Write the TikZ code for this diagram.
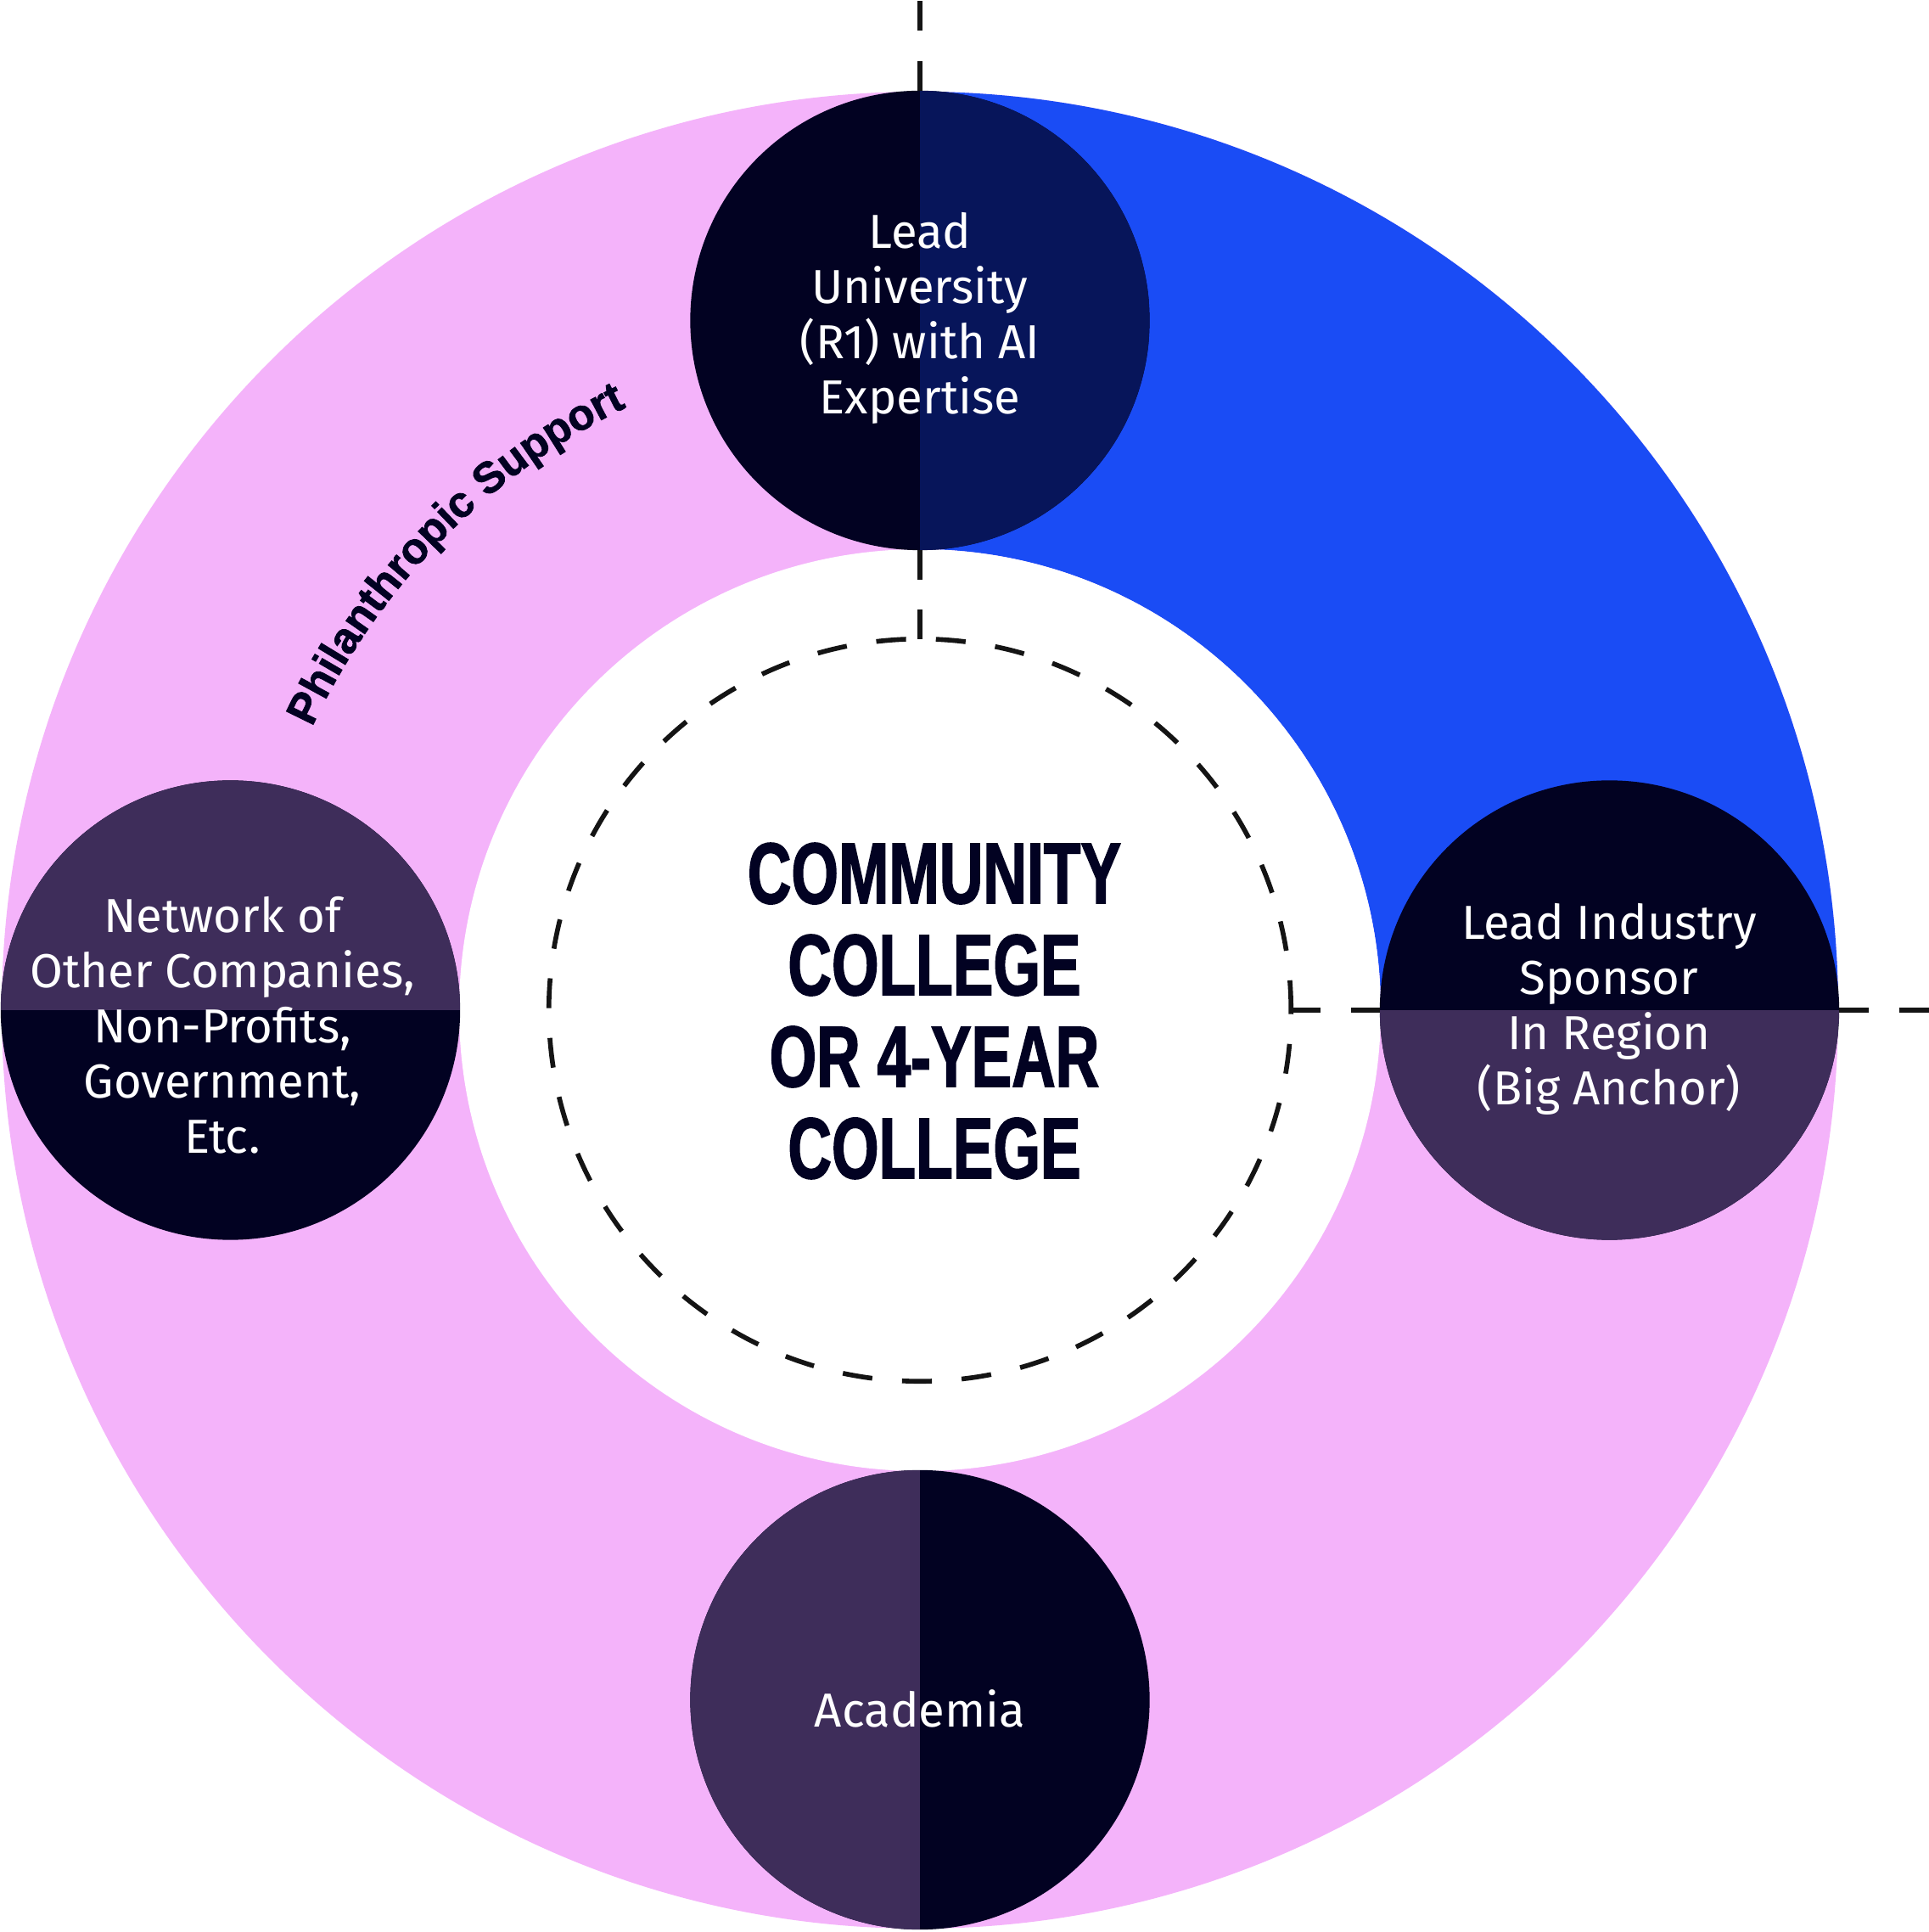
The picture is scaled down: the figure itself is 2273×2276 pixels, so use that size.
\documentclass[tikz,border=0pt]{standalone}
\usepackage{fontspec}
\setmainfont{Fira Sans}
\newfontfamily\philfont[FakeBold=1.5]{Liberation Sans}
\newfontfamily\campusfont[FakeStretch=0.7,FakeBold=1.5]{Liberation Sans}
\usepackage{tikz}
\usetikzlibrary{decorations.text}

\definecolor{ringpink}{HTML}{F4B3FA}
\definecolor{ringblue}{HTML}{1A4CF5}
\definecolor{inkdark}{HTML}{020222}
\definecolor{inknavy}{HTML}{07155A}
\definecolor{inkplum}{HTML}{3E2D5A}
\definecolor{guidegray}{HTML}{141414}

\tikzset{
  partner/.style={circle, inner sep=0pt, outer sep=0pt, minimum size=5.41cm, fill=inkdark},
  fill east/.style={path picture={\fill[#1] (path picture bounding box.north) rectangle (path picture bounding box.south east);}},
  fill west/.style={path picture={\fill[#1] (path picture bounding box.north west) rectangle (path picture bounding box.south);}},
  fill north/.style={path picture={\fill[#1] (path picture bounding box.north west) rectangle (path picture bounding box.east);}},
  fill south/.style={path picture={\fill[#1] (path picture bounding box.west) rectangle (path picture bounding box.south east);}},
  partnertext/.style={text=white, align=center, inner sep=0pt, font=\fontsize{16}{18.5}\selectfont},
  campus/.style={text=inkdark, align=center, inner sep=0pt, font=\campusfont\bfseries\fontsize{29}{30.7}\selectfont},
  guide/.style={draw=guidegray, line width=1.6pt, dash pattern=on 10pt off 10pt},
}

\begin{document}
\begin{tikzpicture}[x=0.01cm, y=0.01cm]
  \useasboundingbox (-1084,-1086) rectangle (1189,1190);
  % Ring
  \fill[ringpink] (0,0) circle (1082);
  \fill[ringblue] (90:543) arc (90:0:543) -- (0:1082) arc (0:90:1082) -- cycle;
  \fill[white] (0,0) circle (543);
  \path[decorate, decoration={text along path, text align=center, text color=inkdark,
      text={|\philfont\bfseries\fontsize{14.6}{17}\selectfont|Philanthropic Support}}]
    (157:790) arc (157:114:790);
  % Partners
  \node[partner, fill east=inknavy] (univ) at (0,812.5) {};
  \node[partner, fill south=inkplum] (sponsor) at (812.5,0) {};
  \node[partner, fill west=inkplum] (academia) at (0,-812.5) {};
  \node[partner, fill north=inkplum] (network) at (-812.5,0) {};
  \node[partnertext] (univ-label) at (0,815) {Lead\\University\\(R1) with AI\\Expertise};
  \node[partnertext] (sponsor-label) at (812,1) {Lead Industry\\Sponsor\\In Region\\(Big Anchor)};
  \node[partnertext] (academia-label) at (0,-823) {Academia};
  \node[partnertext] (network-label) at (-822,-18) {Network of\\Other Companies,\\Non-Profits,\\Government,\\Etc.};
  % Center
  \node[circle, minimum size=8.74cm, inner sep=0pt, outer sep=0pt, guide] (hub) at (0,0) {};
  \node[campus] (campus-label) at (17,-1) {COMMUNITY\\COLLEGE\\OR 4-YEAR\\COLLEGE};
  % Guide lines
  \coordinate (topedge) at (0,1190);
  \coordinate (rightedge) at (1189,0);
  \draw[guide] (univ) -- (topedge);
  \draw[guide] (univ) -- (hub);
  \draw[guide] (hub) -- (sponsor);
  \draw[guide] (sponsor) -- (rightedge);
\end{tikzpicture}
\end{document}
